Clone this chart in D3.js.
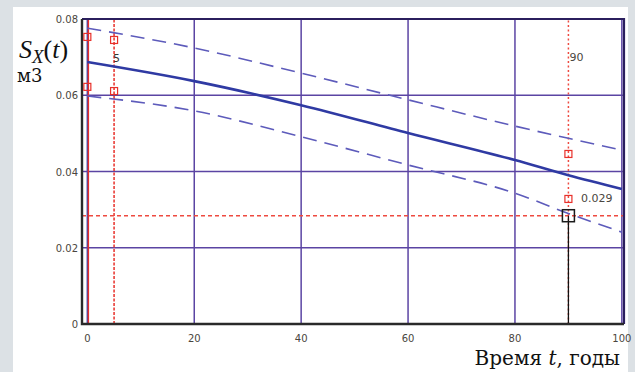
<!DOCTYPE html>
<html>
<head>
<meta charset="utf-8">
<script src="https://cdnjs.cloudflare.com/ajax/libs/d3/7.8.5/d3.min.js"></script>
<style>
	body { margin: 0; background: #dce1e5; }
	svg { display: block; }
</style>
</head>
<body>
<div id="chart"></div>
<script>
var width = 635,
	height = 372;

// years and the three curves
var years = [0, 20, 40, 60, 80, 90, 100];
var mean = [0.0687, 0.0637, 0.0574, 0.0501, 0.0430, 0.0390, 0.0354];
var upper = [0.0776, 0.0724, 0.0658, 0.0588, 0.0519, 0.0487, 0.0456];
var lower = [0.0598, 0.0559, 0.0491, 0.0417, 0.0343, 0.0290, 0.0241];

var xTicks = [0, 20, 40, 60, 80, 100];
var yTicks = [0, 0.02, 0.04, 0.06, 0.08];
var yTickLabels = ['0', '0.02', '0.04', '0.06', '0.08'];

// red trace markers (t, value)
var markers = [
	[0, 0.0753], [0, 0.0622],
	[5, 0.0745], [5, 0.0611],
	[90, 0.0446], [90, 0.0328]
];
var markT = [0, 5, 90];
var target = [90, 0.0284];
var targetLabel = '0.029';

var svg = d3.select('#chart').append('svg')
	.attr('width', width)
	.attr('height', height);

svg.append('rect')
	.attr('x', 13).attr('y', 7)
	.attr('width', 615).attr('height', height - 7)
	.attr('fill', '#ffffff');

var x = d3.scaleLinear().domain([-1, 100.4]).range([82, 624]);
var y = d3.scaleLinear().domain([0, 0.08]).range([324, 19]);

var g = svg.append('g');

// grid
g.selectAll('.vgrid')
	.data([0, 20, 40, 60, 80, 100])
	.enter().append('line')
	.attr('x1', function(d) { return x(d); })
	.attr('x2', function(d) { return x(d); })
	.attr('y1', y(0)).attr('y2', y(0.08))
	.attr('stroke', function(d) { return d === 0 ? '#3346b5' : '#5b44a3'; })
	.attr('stroke-width', 1.5);

g.selectAll('.hgrid')
	.data([0.02, 0.04, 0.06])
	.enter().append('line')
	.attr('x1', x(-1)).attr('x2', x(100.4))
	.attr('y1', function(d) { return y(d); })
	.attr('y2', function(d) { return y(d); })
	.attr('stroke', '#5b44a3')
	.attr('stroke-width', 1.5);

// red trace lines
g.append('line')
	.attr('x1', x(markT[0]) + 1).attr('x2', x(markT[0]) + 1)
	.attr('y1', y(0)).attr('y2', y(0.08))
	.attr('stroke', '#e8302a').attr('stroke-width', 1.5);

g.append('line')
	.attr('x1', x(markT[1])).attr('x2', x(markT[1]))
	.attr('y1', y(0)).attr('y2', y(0.08))
	.attr('stroke', '#e8302a').attr('stroke-width', 1.5)
	.attr('stroke-dasharray', '3,1.5');

g.append('line')
	.attr('x1', x(markT[2])).attr('x2', x(markT[2]))
	.attr('y1', y(0)).attr('y2', y(0.08))
	.attr('stroke', '#ee4a40').attr('stroke-width', 1.5)
	.attr('stroke-dasharray', '2,2.5');

g.append('line')
	.attr('x1', x(-1)).attr('x2', x(100.4))
	.attr('y1', y(target[1])).attr('y2', y(target[1]))
	.attr('stroke', '#ee4a40').attr('stroke-width', 1.5)
	.attr('stroke-dasharray', '4,3');

// curves
var line = d3.line()
	.x(function(d) { return x(d[0]); })
	.y(function(d) { return y(d[1]); })
	.curve(d3.curveMonotoneX);

function zipped(vals) {
	return years.map(function(t, i) { return [t, vals[i]]; });
}

g.append('path')
	.attr('d', line(zipped(upper)))
	.attr('fill', 'none')
	.attr('stroke', '#5d5bbb')
	.attr('stroke-width', 1.6)
	.attr('stroke-dasharray', '14,8');

g.append('path')
	.attr('d', line(zipped(lower)))
	.attr('fill', 'none')
	.attr('stroke', '#5d5bbb')
	.attr('stroke-width', 1.6)
	.attr('stroke-dasharray', '14,8');

g.append('path')
	.attr('d', line(zipped(mean)))
	.attr('fill', 'none')
	.attr('stroke', '#2f3aa3')
	.attr('stroke-width', 2.6);

// black trace at target
g.append('line')
	.attr('x1', x(target[0])).attr('x2', x(target[0]))
	.attr('y1', y(0)).attr('y2', y(target[1]))
	.attr('stroke', '#111').attr('stroke-width', 1.3);

// frame
g.append('path')
	.attr('d', 'M' + x(100.4) + ',' + y(0) + 'V' + y(0.08) + 'H' + x(-1))
	.attr('fill', 'none')
	.attr('stroke', '#2b1f5e')
	.attr('stroke-width', 2.2);
g.append('path')
	.attr('d', 'M' + x(-1) + ',' + y(0.08) + 'V' + y(0) + 'H' + x(100.4))
	.attr('fill', 'none')
	.attr('stroke', '#2a2a2a')
	.attr('stroke-width', 2.4);

// markers
g.selectAll('.mk')
	.data(markers)
	.enter().append('rect')
	.attr('x', function(d) { return x(d[0]) - 3.5; })
	.attr('y', function(d) { return y(d[1]) - 3.5; })
	.attr('width', 7).attr('height', 7)
	.attr('fill', 'none')
	.attr('stroke', '#e8302a')
	.attr('stroke-width', 1.2);

g.append('rect')
	.attr('x', x(target[0]) - 6)
	.attr('y', y(target[1]) - 6)
	.attr('width', 12).attr('height', 12)
	.attr('fill', 'none')
	.attr('stroke', '#1a1a1a')
	.attr('stroke-width', 1.5);

// tick labels
var tickFont = 'Tahoma, "DejaVu Sans", sans-serif';

g.selectAll('.ytick')
	.data(yTicks)
	.enter().append('text')
	.attr('x', 78)
	.attr('y', function(d) { return y(d) + 4; })
	.attr('text-anchor', 'end')
	.attr('font-family', tickFont)
	.attr('font-size', 10)
	.attr('fill', '#4a4640')
	.text(function(d, i) { return yTickLabels[i]; });

g.selectAll('.xtick')
	.data(xTicks)
	.enter().append('text')
	.attr('x', function(d) { return x(d); })
	.attr('y', 342)
	.attr('text-anchor', 'middle')
	.attr('font-family', tickFont)
	.attr('font-size', 10)
	.attr('fill', '#4a4640')
	.text(function(d) { return d; });

// marker labels
g.append('text')
	.attr('x', x(markT[1]) - 1).attr('y', 62)
	.attr('font-family', tickFont).attr('font-size', 11)
	.attr('fill', '#3a3630')
	.text(markT[1]);
g.append('text')
	.attr('x', x(markT[2]) + 1).attr('y', 61)
	.attr('font-family', tickFont).attr('font-size', 11)
	.attr('fill', '#4a4640')
	.text(markT[2]);
g.append('text')
	.attr('x', 581).attr('y', 202)
	.attr('font-family', tickFont).attr('font-size', 11)
	.attr('fill', '#4a4640')
	.text(targetLabel);

// axis titles
var yt = svg.append('text')
	.attr('x', 19).attr('y', 58)
	.attr('font-family', '"Liberation Serif", "Times New Roman", serif')
	.attr('font-size', 26)
	.attr('fill', '#111');
yt.append('tspan').attr('font-style', 'italic').text('S');
yt.append('tspan').attr('font-style', 'italic').attr('font-size', 19).attr('dy', 5).text('X');
yt.append('tspan').attr('dy', -5).text('(');
yt.append('tspan').attr('font-style', 'italic').text('t');
yt.append('tspan').text(')');

svg.append('text')
	.attr('x', 17).attr('y', 82)
	.attr('font-family', '"DejaVu Serif", serif')
	.attr('font-size', 18)
	.attr('fill', '#111')
	.text('м3');

var xt = svg.append('text')
	.attr('x', 620).attr('y', 365)
	.attr('text-anchor', 'end')
	.attr('font-family', '"DejaVu Serif", serif')
	.attr('font-size', 20)
	.attr('fill', '#111');
xt.append('tspan').text('Время ');
xt.append('tspan').attr('font-style', 'italic').text('t');
xt.append('tspan').text(', годы');
</script>
</body>
</html>
